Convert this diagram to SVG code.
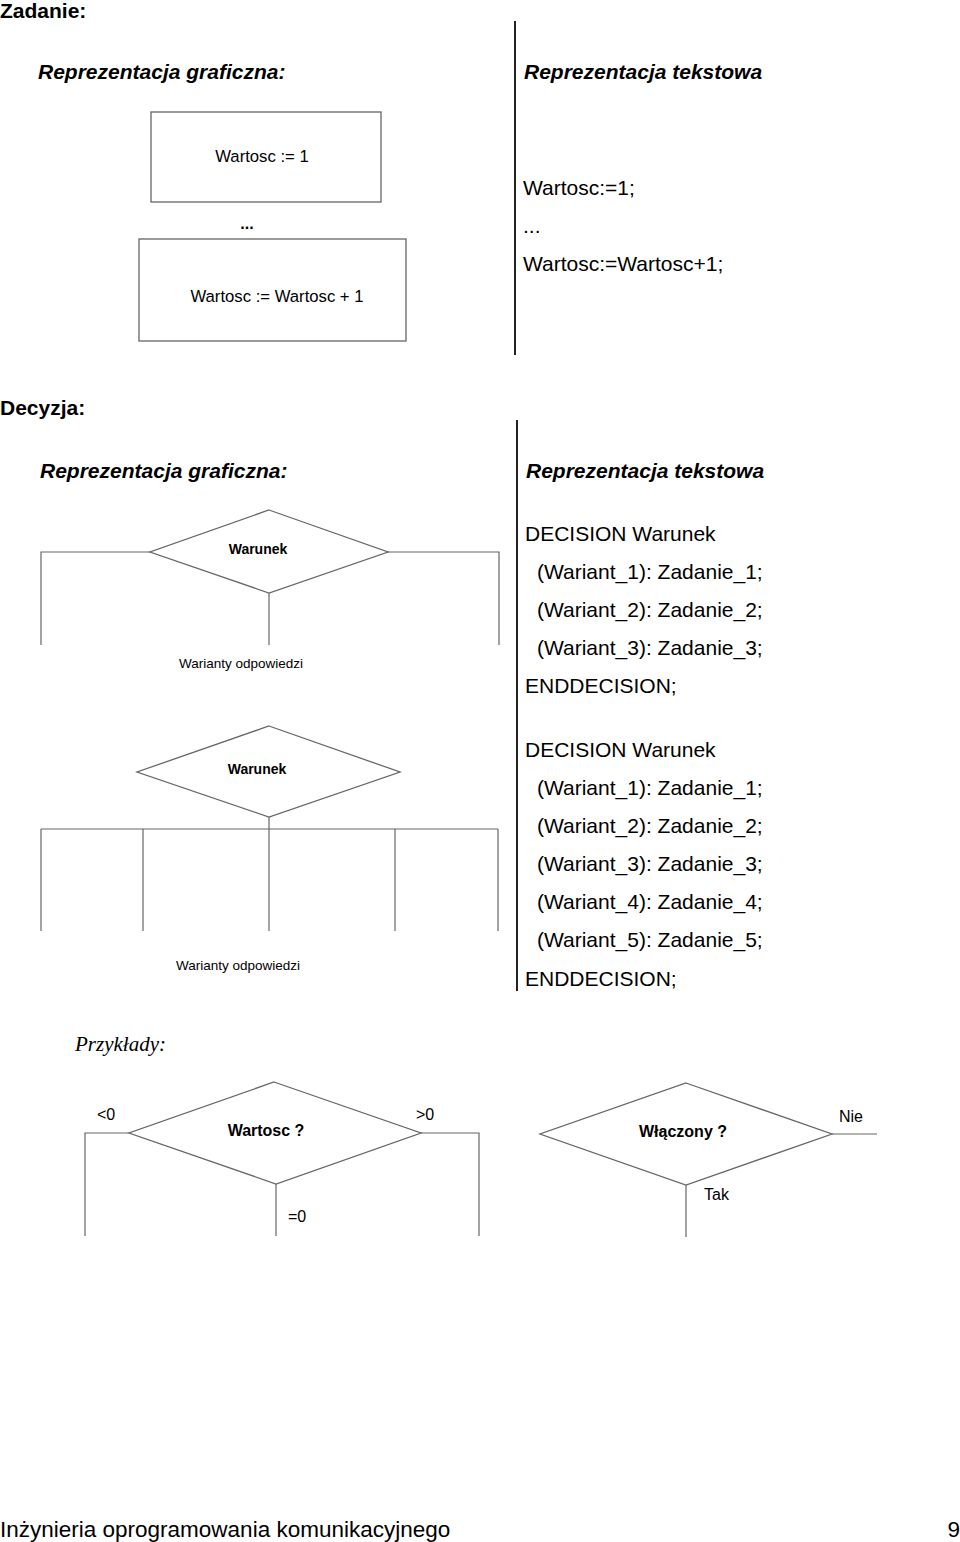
<svg xmlns="http://www.w3.org/2000/svg" width="960" height="1542" viewBox="0 0 960 1542">
<style>
text{font-family:"Liberation Sans",Arial,sans-serif;fill:#000}
.h{font-size:21px;font-weight:bold}
.hi{font-size:21px;font-weight:bold;font-style:italic}
.t{font-size:21px}
.b{font-size:16.7px}
.e{font-size:16px}
.bb{font-size:16px;font-weight:bold}
.s{font-size:13.5px}
.sb{font-size:14px;font-weight:bold}
.sep{stroke:#222;stroke-width:2;fill:none}
.ln{stroke:#666;stroke-width:1.2;fill:none}
.shape{stroke:#666;stroke-width:1.3;fill:#fff}
.m{text-anchor:middle}
</style>
<rect width="960" height="1542" fill="#fff"/>

<text class="h" x="0" y="18">Zadanie:</text>
<text class="hi" x="38" y="79">Reprezentacja graficzna:</text>
<text class="hi" x="524" y="79">Reprezentacja tekstowa</text>

<g id="box1">
<rect class="shape" x="151" y="112" width="230" height="90"/>
<text class="b m" x="262" y="162">Wartosc := 1</text>
</g>
<text class="bb m" x="247" y="229">...</text>
<g id="box2">
<rect class="shape" x="139" y="239" width="267" height="102"/>
<text class="b m" x="277" y="302">Wartosc := Wartosc + 1</text>
</g>

<g id="sep-lines">
<line class="sep" x1="515" y1="21" x2="515" y2="355"/>
<line class="sep" x1="517" y1="420" x2="517" y2="991"/>
</g>

<text class="t" x="523" y="195">Wartosc:=1;</text>
<text class="t" x="523" y="233">...</text>
<text class="t" x="523" y="271">Wartosc:=Wartosc+1;</text>

<text class="h" x="0" y="415">Decyzja:</text>
<text class="hi" x="40" y="478">Reprezentacja graficzna:</text>
<text class="hi" x="526" y="478">Reprezentacja tekstowa</text>

<g id="connectors">
<polyline class="ln" points="150,552 41,552 41,645"/>
<polyline class="ln" points="388,552 499,552 499,645"/>
<line class="ln" x1="269" y1="593" x2="269" y2="645"/>

<line class="ln" x1="269" y1="817" x2="269" y2="931"/>
<line class="ln" x1="41" y1="829" x2="498" y2="829"/>
<line class="ln" x1="41" y1="829" x2="41" y2="931"/>
<line class="ln" x1="143" y1="829" x2="143" y2="931"/>
<line class="ln" x1="395" y1="829" x2="395" y2="931"/>
<line class="ln" x1="498" y1="829" x2="498" y2="931"/>

<polyline class="ln" points="129,1133 85,1133 85,1236"/>
<polyline class="ln" points="421,1133 479,1133 479,1236"/>
<line class="ln" x1="276" y1="1184" x2="276" y2="1236"/>

<line class="ln" x1="832" y1="1134" x2="877" y2="1134"/>
<line class="ln" x1="686" y1="1185" x2="686" y2="1237"/>
</g>

<g id="decision1">
<polygon class="shape" points="269,510 388,552 269,593 150,552"/>
<text class="sb m" x="258" y="554">Warunek</text>
</g>
<text class="s m" x="241" y="668">Warianty odpowiedzi</text>

<g id="decision1-text">
<text class="t" x="525" y="541">DECISION Warunek</text>
<text class="t" x="537" y="579">(Wariant_1): Zadanie_1;</text>
<text class="t" x="537" y="617">(Wariant_2): Zadanie_2;</text>
<text class="t" x="537" y="655">(Wariant_3): Zadanie_3;</text>
<text class="t" x="525" y="693">ENDDECISION;</text>
</g>

<g id="decision2">
<polygon class="shape" points="269,726 400,772 269,817 137,772"/>
<text class="sb m" x="257" y="774">Warunek</text>
</g>
<text class="s m" x="238" y="970">Warianty odpowiedzi</text>

<g id="decision2-text">
<text class="t" x="525" y="757">DECISION Warunek</text>
<text class="t" x="537" y="795">(Wariant_1): Zadanie_1;</text>
<text class="t" x="537" y="833">(Wariant_2): Zadanie_2;</text>
<text class="t" x="537" y="871">(Wariant_3): Zadanie_3;</text>
<text class="t" x="537" y="909">(Wariant_4): Zadanie_4;</text>
<text class="t" x="537" y="947">(Wariant_5): Zadanie_5;</text>
<text class="t" x="525" y="986">ENDDECISION;</text>
</g>

<text x="75" y="1051" style="font-family:'Liberation Serif','Times New Roman',serif;font-size:21px;font-style:italic">Przykłady:</text>

<g id="example1">
<polygon class="shape" points="274,1082 421,1133 276,1184 129,1133"/>
<text class="bb m" x="266" y="1136">Wartosc ?</text>
</g>
<text class="e" x="97" y="1120">&lt;0</text>
<text class="e" x="416" y="1120">&gt;0</text>
<text class="e" x="288" y="1222">=0</text>

<g id="example2">
<polygon class="shape" points="686,1083 832,1134 686,1185 540,1134"/>
<text class="bb m" x="683" y="1137">Włączony ?</text>
</g>
<text class="e" x="839" y="1122">Nie</text>
<text class="e" x="704" y="1200">Tak</text>

<text x="0" y="1537" style="font-size:22.5px">Inżynieria oprogramowania komunikacyjnego</text>
<text x="960" y="1537" style="font-size:22.5px" text-anchor="end">9</text>
</svg>
